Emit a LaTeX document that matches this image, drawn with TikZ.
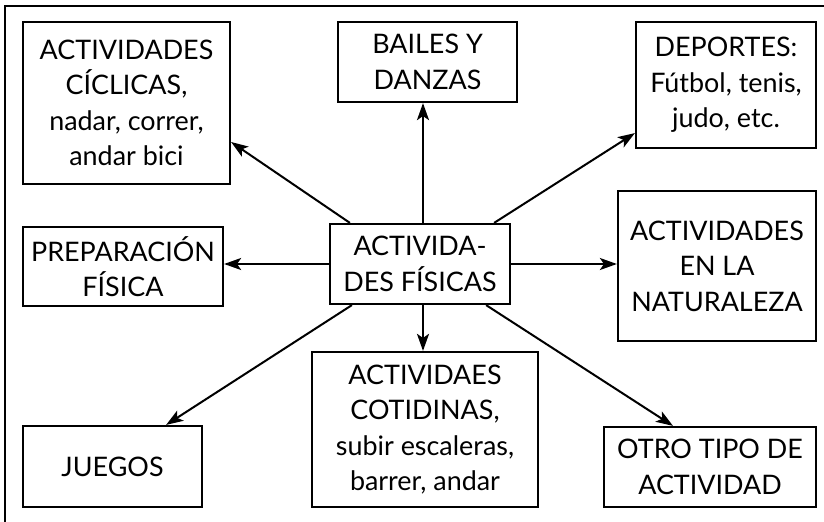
\documentclass[tikz,border=0pt]{standalone}
\usepackage{fontspec}
\setmainfont{Lato}
\usetikzlibrary{arrows.meta,calc}
\begin{document}
\begin{tikzpicture}[x=1bp,y=-1bp,
  box/.style={draw,line width=2.2bp,align=center,inner sep=0pt,
    font=\fontsize{27}{35.7}\selectfont},
  arr/.style={line width=2bp,-{Stealth[length=17bp,width=12bp,inset=4bp]}},
  frame/.style={line width=2.2bp}]
\useasboundingbox (0,0) rectangle (824,522);
\coordinate (ftr) at (824,6);
\coordinate (ftl) at (5,6);
\coordinate (fbl) at (5,522);
\draw[frame] (ftr) -- (ftl) -- (fbl);
\node[box,minimum width=207bp,minimum height=162bp] (cyc) at (126.5,103) {ACTIVIDADES\\CÍCLICAS,\\nadar, correr,\\andar bici};
\node[box,minimum width=179bp,minimum height=80bp] (bai) at (427.5,62) {BAILES Y\\DANZAS};
\node[box,minimum width=180bp,minimum height=126bp] (dep) at (726,85) {DEPORTES:\\Fútbol, tenis,\\judo, etc.};
\node[box,minimum width=200bp,minimum height=79bp] (pre) at (123,266.5) {PREPARACIÓN\\FÍSICA};
\node[box,minimum width=180bp,minimum height=80bp] (c) at (420,264) {ACTIVIDA-\\DES FÍSICAS};
\node[box,minimum width=198bp,minimum height=150bp] (nat) at (717,266) {ACTIVIDADES\\EN LA\\NATURALEZA};
\node[box,minimum width=179bp,minimum height=81bp] (jue) at (112.5,466.5) {JUEGOS};
\node[box,minimum width=226bp,minimum height=155bp] (cot) at (425,429.5) {ACTIVIDAES\\COTIDINAS,\\subir escaleras,\\barrer, andar};
\node[box,minimum width=212bp,minimum height=80bp] (otr) at (710,467) {OTRO TIPO DE\\ACTIVIDAD};
\draw[arr] ([xshift=21bp]c.north west) -- ([yshift=-39bp]cyc.east);
\draw[arr] ([xshift=3bp]c.north) -- ([xshift=3bp]c.north |- bai.south);
\draw[arr] ([xshift=-17bp]c.north east) -- ([yshift=16bp]dep.south west);
\draw[arr] (c.west) -- (c.west -| pre.east);
\draw[arr] (c.east) -- (c.east -| nat.west);
\draw[arr] ([xshift=3bp]c.south) -- ([xshift=3bp]c.south |- cot.north);
\draw[arr] ([xshift=23bp]c.south west) -- ([xshift=-37bp]jue.north east);
\draw[arr] ([xshift=-25bp]c.south east) -- ([xshift=-37bp]otr.north);
\end{tikzpicture}
\end{document}
